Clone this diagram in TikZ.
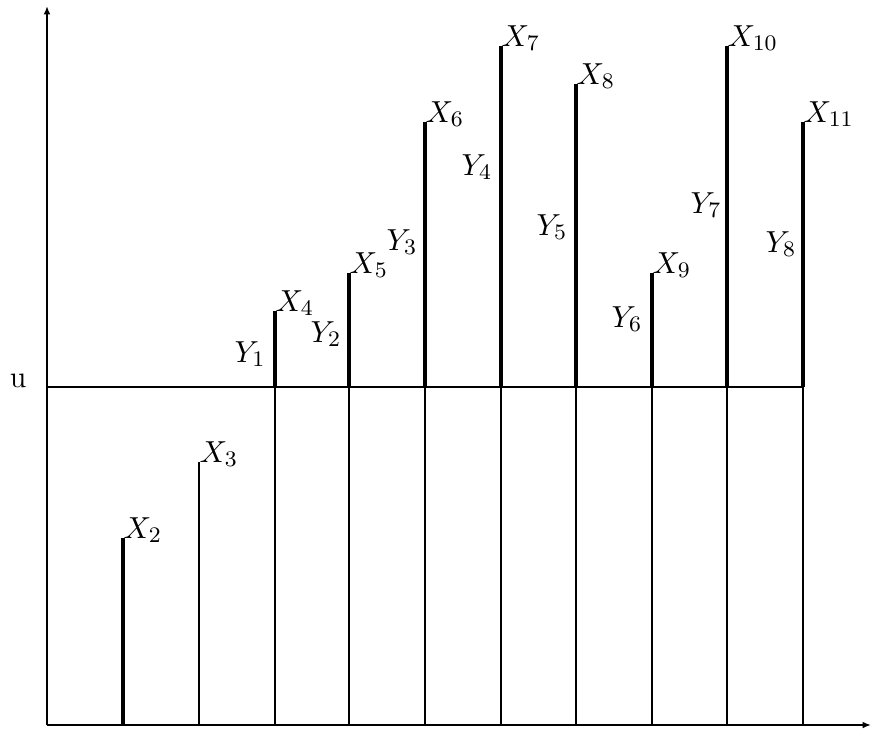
\documentclass[tikz,border=0pt]{standalone}
\usetikzlibrary{arrows.meta}
\begin{document}
\begin{tikzpicture}[x=0.36pt,y=-0.36pt,
  every node/.style={font=\fontsize{11}{13}\selectfont},
  thinline/.style={line width=0.8pt},
  thickline/.style={line width=1.5pt},
  axis/.style={line width=0.8pt,-{Latex[length=3pt,width=2.4pt]}},
  xlab/.style={anchor=base west,inner sep=0pt},
  ylab/.style={anchor=base east,inner sep=0pt}]
\useasboundingbox (0,0) rectangle (873,731);
% axes
\coordinate (O) at (47,725);
\coordinate (ytop) at (47,6);
\coordinate (xend) at (871,725);
\draw[axis] (O) -- (ytop);
\draw[axis] (O) -- (xend);
% u line
\coordinate (uL) at (47,387);
\coordinate (uR) at (803,387);
\draw[thinline] (uL) -- (uR);
\node[ylab] (u) at (27,387) {u};
% bars
\foreach \n/\x/\t in {2/123/538,3/199/462,4/275/311,5/349/273,6/425/122,7/501/46,8/576/84,9/652/273,10/727/46,11/803/122}{
  \coordinate (b\n) at (\x,725);
  \coordinate (m\n) at (\x,387);
  \coordinate (t\n) at (\x,\t);
  \node[xlab] (X\n) at (\x,\t) {$X_{\n}$};
}
\draw[thickline] (b2) -- (t2);
\draw[thinline] (b3) -- (t3);
\foreach \n in {4,5,6,7,8,9,10,11}{
  \draw[thinline] (b\n) -- (m\n);
  \draw[thickline] (m\n) -- (t\n);
}
% Y labels
\node[ylab] (Y1) at (266,362) {$Y_1$};
\node[ylab] (Y2) at (342,342) {$Y_2$};
\node[ylab] (Y3) at (418,250) {$Y_3$};
\node[ylab] (Y4) at (493,175) {$Y_4$};
\node[ylab] (Y5) at (568,235) {$Y_5$};
\node[ylab] (Y6) at (643,327) {$Y_6$};
\node[ylab] (Y7) at (722,213) {$Y_7$};
\node[ylab] (Y8) at (797,252) {$Y_8$};
\end{tikzpicture}
\end{document}
